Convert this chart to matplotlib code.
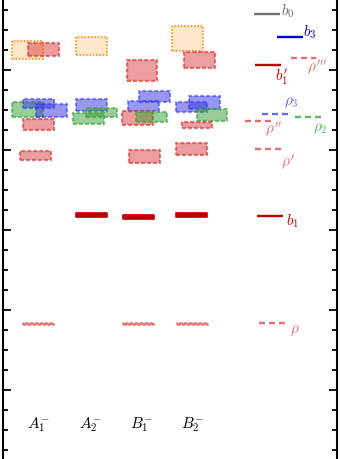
import matplotlib
matplotlib.use("Agg")
import matplotlib.pyplot as plt
from matplotlib.patches import Rectangle
from matplotlib.ticker import MultipleLocator

plt.rcParams['mathtext.fontset'] = 'cm'
plt.rcParams['lines.scale_dashes'] = False

# ---------------- data ----------------
columns = [r'$A_1^{-}$', r'$A_2^{-}$', r'$B_1^{-}$', r'$B_2^{-}$']

a1_kind = ['orange', 'red', 'green', 'blue', 'blue', 'red', 'red', 'rho']
a1_E    = [1.050, 1.051, 0.901, 0.916, 0.899, 0.864, 0.786, 0.364]
a1_err  = [0.0225, 0.016, 0.019, 0.011, 0.016, 0.014, 0.011, 0.0025]

a2_kind = ['orange', 'blue', 'green', 'green', 'b1']
a2_E    = [1.060, 0.9125, 0.894, 0.879, 0.6375]
a2_err  = [0.0225, 0.015, 0.011, 0.014, 0.005]

b1_kind = ['red', 'blue', 'blue', 'red', 'green', 'red', 'b1', 'rho']
b1_E    = [0.999, 0.934, 0.910, 0.880, 0.8825, 0.784, 0.633, 0.366]
b1_err  = [0.026, 0.014, 0.0125, 0.0175, 0.0125, 0.016, 0.005, 0.0025]

b2_kind = ['orange', 'red', 'blue', 'blue', 'green', 'red', 'red', 'b1', 'rho']
b2_E    = [1.079, 1.025, 0.919, 0.9075, 0.8875, 0.8625, 0.8025, 0.6375, 0.365]
b2_err  = [0.031, 0.020, 0.016, 0.0125, 0.015, 0.0075, 0.015, 0.005, 0.0025]

exp_names = [r'$b_0$', r'$b_3$', r"$\rho'''$", r"$b_1'$", r'$\rho_3$',
             r"$\rho''$", r'$\rho_2$', r"$\rho'$", r'$b_1$', r'$\rho$']
exp_kind  = ['gray', 'blue_s', 'red_d', 'red_s', 'blue_d',
             'red_d', 'green_d', 'red_d', 'red_s', 'red_d']
exp_E     = [1.139, 1.0825, 1.030, 1.0125, 0.890, 0.8725, 0.8825, 0.8025, 0.635, 0.3675]

# ---------------- layout (horizontal offsets within columns) ----------------
a1_off = [-0.21, 0.09, -0.21, 0.0, 0.25, 0.0, -0.05, 0.0]
a2_off = [0.03, 0.03, 0.22, -0.03, 0.03]
b1_off = [0.01, 0.25, 0.04, -0.07, 0.19, 0.06, -0.06, -0.05]
b2_off = [-0.10, 0.13, 0.22, -0.03, 0.37, 0.08, -0.02, -0.03, 0.0]

exp_x   = [5.44, 5.88, 6.15, 5.46, 5.60, 5.26, 6.23, 5.46, 5.50, 5.53]
exp_lbl = [(1, 3), (0, 5), (-9, -9), (-6, -12), (-4, 11),
           (-6, -8), (-8, -11), (0, -13), (3, -5), (5, -7)]

box_w = 0.6
line_w = 0.5

box_style = {
    'orange': dict(facecolor=(1.0, 0.55, 0.0, 0.2), edgecolor=(1.0, 0.6, 0.15, 0.9),
                   linestyle=(0, (1.2, 1.2)), lw=1.6),
    'red':    dict(facecolor=(0.85, 0.2, 0.2, 0.48), edgecolor=(0.85, 0.25, 0.25, 0.7),
                   linestyle=(0, (2.9, 1.4)), lw=1.6),
    'blue':   dict(facecolor=(0.2, 0.2, 0.9, 0.5), edgecolor=(0.2, 0.2, 0.9, 0.55),
                   linestyle=(0, (2.9, 1.4)), lw=1.6),
    'green':  dict(facecolor=(0.2, 0.62, 0.2, 0.5), edgecolor=(0.25, 0.65, 0.25, 0.65),
                   linestyle=(0, (2.9, 1.4)), lw=1.6),
    'rho':    dict(facecolor=(0.85, 0.3, 0.3, 0.6), edgecolor=(0.88, 0.4, 0.4, 0.8),
                   linestyle=(0, (2.5, 1.0)), lw=1.2),
    'b1':     dict(facecolor='#c00000', edgecolor='#c00000', linestyle='-', lw=1.2),
}

line_style = {
    'gray':    dict(color='#707070', ls='-'),
    'blue_s':  dict(color='#0000cc', ls='-'),
    'red_s':   dict(color='#c00000', ls='-'),
    'red_d':   dict(color='#e07070', ls=(0, (4.3, 2.9))),
    'blue_d':  dict(color='#6a6aee', ls=(0, (4.3, 2.9))),
    'green_d': dict(color='#5cb85c', ls=(0, (4.3, 2.9))),
}

fig = plt.figure(figsize=(3.41, 4.59), dpi=100)
ax = fig.add_axes([3 / 341, 0, 334 / 341, 1])
ax.set_xlim(0.31, 6.80)
ax.set_ylim(0.0275, 1.175)

col_data = [(a1_kind, a1_E, a1_err, a1_off),
            (a2_kind, a2_E, a2_err, a2_off),
            (b1_kind, b1_E, b1_err, b1_off),
            (b2_kind, b2_E, b2_err, b2_off)]

for ci, (kinds, Es, errs, offs) in enumerate(col_data):
    xc = ci + 1
    for k, E, e, o in zip(kinds, Es, errs, offs):
        r = Rectangle((xc + o - box_w / 2, E - e), box_w, 2 * e,
                      joinstyle='round', **box_style[k])
        ax.add_patch(r)
    ax.text(xc, 0.1125, columns[ci], ha='center', va='center', fontsize=11)

for name, k, E, x, (dx, dy) in zip(exp_names, exp_kind, exp_E, exp_x, exp_lbl):
    st = line_style[k]
    ax.plot([x - line_w / 2, x + line_w / 2], [E, E], color=st['color'],
            linestyle=st['ls'], lw=1.7, solid_capstyle='butt', dash_capstyle='butt')
    ax.annotate(name, xy=(x + line_w / 2, E), xytext=(dx, dy),
                textcoords='offset pixels', ha='left', va='center',
                color=st['color'], fontsize=11)

ax.yaxis.set_major_locator(MultipleLocator(0.2))
ax.yaxis.set_minor_locator(MultipleLocator(0.05))
ax.tick_params(axis='y', which='both', direction='in', left=True, right=True,
               labelleft=False, labelright=False, width=1.3)
ax.tick_params(axis='y', which='major', length=6)
ax.tick_params(axis='y', which='minor', length=3.5)
ax.set_xticks([])
for s in ['top', 'bottom']:
    ax.spines[s].set_visible(False)
for s in ['left', 'right']:
    ax.spines[s].set_linewidth(1.5)

fig.savefig('out.png', dpi=100)
